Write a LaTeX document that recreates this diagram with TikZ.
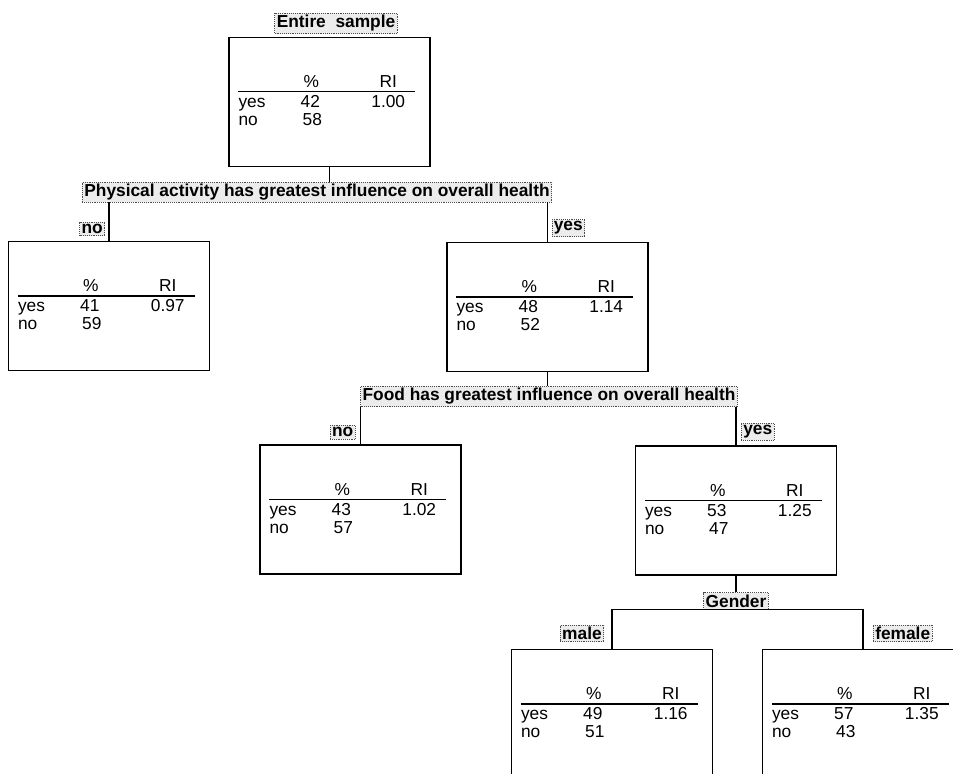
\documentclass[tikz,border=0pt]{standalone}
\usepackage{fontspec}
\setmainfont{Liberation Sans}

\begin{document}
\begin{tikzpicture}[x=0.75pt, y=-0.75pt,
    box/.style={draw, line width=1.1pt, minimum width=150.75pt, minimum height=96.75pt, inner sep=0pt},
    cell/.style={font=\fontsize{13}{15}\selectfont, inner sep=0pt, anchor=base},
    split/.style={draw=gray!60!black, densely dotted, fill=gray!15, font=\bfseries\fontsize{13}{15}\selectfont, inner sep=1.5pt},
    rule/.style={line width=1.1pt},
    link/.style={line width=0.9pt}]
    \useasboundingbox (0,0) rectangle (953,774);
    \clip (0,0) rectangle (953,774);

    % Leaf boxes with their small yes/no table (% and RI)
    \foreach \nm/\cx/\cy/\py/\pn/\ri in {root/329.5/102/42/58/1.00, left/109/306/41/59/0.97,
        right/547.5/307/48/52/1.14, food-no/360.5/509.5/43/57/1.02, food-yes/736/510.5/53/47/1.25,
        male/612/714/49/51/1.16, female/863/714/57/43/1.35} {
      \node[box] (\nm) at (\cx,\cy) {};
      \draw[rule] ([shift={(10,55)}]\nm.north west) -- ++(177,0);
      \node[cell] (\nm-pct) at ([shift={(83,51)}]\nm.north west) {\%};
      \node[cell] (\nm-ri) at ([shift={(160,51)}]\nm.north west) {RI};
      \node[cell, anchor=base west] (\nm-yes) at ([shift={(10,71)}]\nm.north west) {yes};
      \node[cell, anchor=base west] (\nm-no) at ([shift={(10,89)}]\nm.north west) {no};
      \node[cell] (\nm-py) at ([shift={(82,71)}]\nm.north west) {\py};
      \node[cell] (\nm-pn) at ([shift={(84,89)}]\nm.north west) {\pn};
      \node[cell] (\nm-rv) at ([shift={(160,71)}]\nm.north west) {\ri};
    }

    % Split labels
    \node[split] (title) at (336,23.5) {Entire~~sample};
    \node[split] (phys) at (317,192) {Physical activity has greatest influence on overall health};
    \node[split] (food) at (549,396.5) {Food has greatest influence on overall health};
    \node[split] (gender) at (736,601) {Gender};

    % Branch labels
    \node[split, anchor=south east] (phys-no) at ([shift={(-4,-5)}]left.north) {no};
    \node[split, anchor=south west] (phys-yes) at ([shift={(4,-5)}]right.north) {yes};
    \node[split, anchor=south east] (food-nolab) at ([shift={(-5,-5)}]food-no.north) {no};
    \node[split, anchor=south west] (food-yeslab) at ([shift={(5,-5)}]food-yes.north) {yes};
    \node[split, anchor=south east] (male-lab) at ([shift={(-8,-7)}]male.north) {male};
    \node[split, anchor=south west] (female-lab) at ([shift={(10,-7)}]female.north) {female};

    % Connectors
    \draw[link] (root.south) -- (root.south |- phys.north);
    \draw[link] (phys.south -| left.north) -- (left.north);
    \draw[link] (phys.south -| right.north) -- (right.north);
    \draw[link] (right.south) -- (right.south |- food.north);
    \draw[link] (food.south -| food-no.north) -- (food-no.north);
    \draw[link] (food.south -| food-yes.north) -- (food-yes.north);
    \draw[link] (food-yes.south) -- (food-yes.south |- gender.north);
    \draw[link] (male.north) |- (gender.south) -| (female.north);
\end{tikzpicture}
\end{document}
